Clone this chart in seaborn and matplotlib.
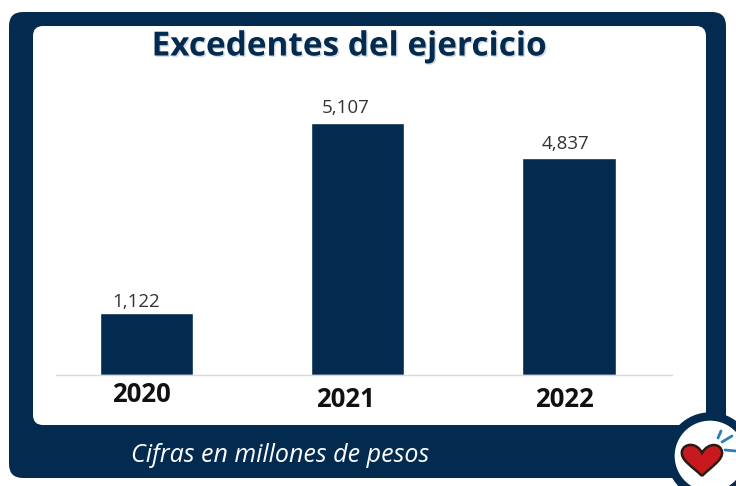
import matplotlib
matplotlib.use('Agg')
import matplotlib.pyplot as plt
import matplotlib.patheffects as pe
from matplotlib.patches import FancyBboxPatch, Circle, PathPatch
from matplotlib.path import Path
import pandas as pd
import seaborn as sns

# datos
anios = ['2020', '2021', '2022']
etiquetas = ['1,122', '5,107', '4,837']
# alturas (las barras del original no siguen la escala de las etiquetas)
alturas = [1261, 5107, 4395]

azul = '#032b50'

sns.set_theme(style='white')
plt.rcParams['font.family'] = ['Open Sans', 'DejaVu Sans']

df = pd.DataFrame({'anio': anios, 'altura': alturas})

fig = plt.figure(figsize=(7.36, 4.86), dpi=100, facecolor='white')

# fondo en pixeles (736x486, y hacia abajo)
bg = fig.add_axes([0, 0, 1, 1], zorder=0)
bg.set_xlim(0, 736)
bg.set_ylim(486, 0)
bg.axis('off')
bg.add_patch(FancyBboxPatch((9, 12), 717, 466, boxstyle='round,pad=0,rounding_size=14',
                            fc=azul, ec='none'))
bg.add_patch(FancyBboxPatch((33, 26), 673, 399, boxstyle='round,pad=0,rounding_size=10',
                            fc='white', ec='none'))

# barras
ax = fig.add_axes([56 / 736, (486 - 375) / 486, 616 / 736, 252 / 486], zorder=1)
ax.patch.set_alpha(0)
sns.barplot(data=df, x='anio', y='altura', color=azul, saturation=1, width=0.443, ax=ax)
ax.set_ylim(0, 5107)
ax.set_xlim(-0.428, 2.488)
ax.set_xlabel('')
ax.set_ylabel('')
ax.set_yticks([])
ax.set_xticks([])
sns.despine(ax=ax, left=True)
ax.spines['bottom'].set_color('#d9d9d9')
ax.spines['bottom'].set_linewidth(1)

# textos sobre todo lo demas
txt = fig.add_axes([0, 0, 1, 1], zorder=2)
txt.set_xlim(0, 736)
txt.set_ylim(486, 0)
txt.axis('off')

for x, y, t in zip([136, 346, 566], [302, 108, 144], etiquetas):
    txt.text(x, y, t, ha='center', va='center', fontsize=13.5, color='#333333')

# anios (desalineados como en la imagen)
for x, y, a in zip([141, 345, 564], [394, 399, 399], anios):
    txt.text(x, y, a, ha='center', va='center', fontsize=18.5, fontweight='bold', color='#111111')

titulo = txt.text(349, 47, 'Excedentes del ejercicio', ha='center', va='center', fontsize=24,
                  fontweight='bold', color=azul)
titulo.set_path_effects([pe.withSimplePatchShadow(offset=(1, -1), shadow_rgbFace='#b5c1cf', alpha=0.6)])
txt.text(280, 455, 'Cifras en millones de pesos', ha='center', va='center', fontsize=18,
         style='italic', color='white')

# logo del corazon
txt.add_patch(Circle((710, 456), 39.5, fc='white', ec=azul, lw=6))
heart = Path([(702, 476), (692, 466), (680, 460), (682, 451), (684, 443), (697, 442), (702, 453),
              (708, 442), (721, 443), (722, 452), (723, 460), (712, 466), (702, 476)],
             [Path.MOVETO] + [Path.CURVE4] * 12)
txt.add_patch(PathPatch(heart, fc='#c8191f', ec='#2a1a14', lw=1.8))
txt.plot([718, 721], [438, 431], color='#2a7fb8', lw=2)
txt.plot([722, 732], [442, 436], color='#2a7fb8', lw=2)
txt.plot([725, 736], [450, 451], color='#2a7fb8', lw=2)

fig.savefig('out.png', dpi=100)
